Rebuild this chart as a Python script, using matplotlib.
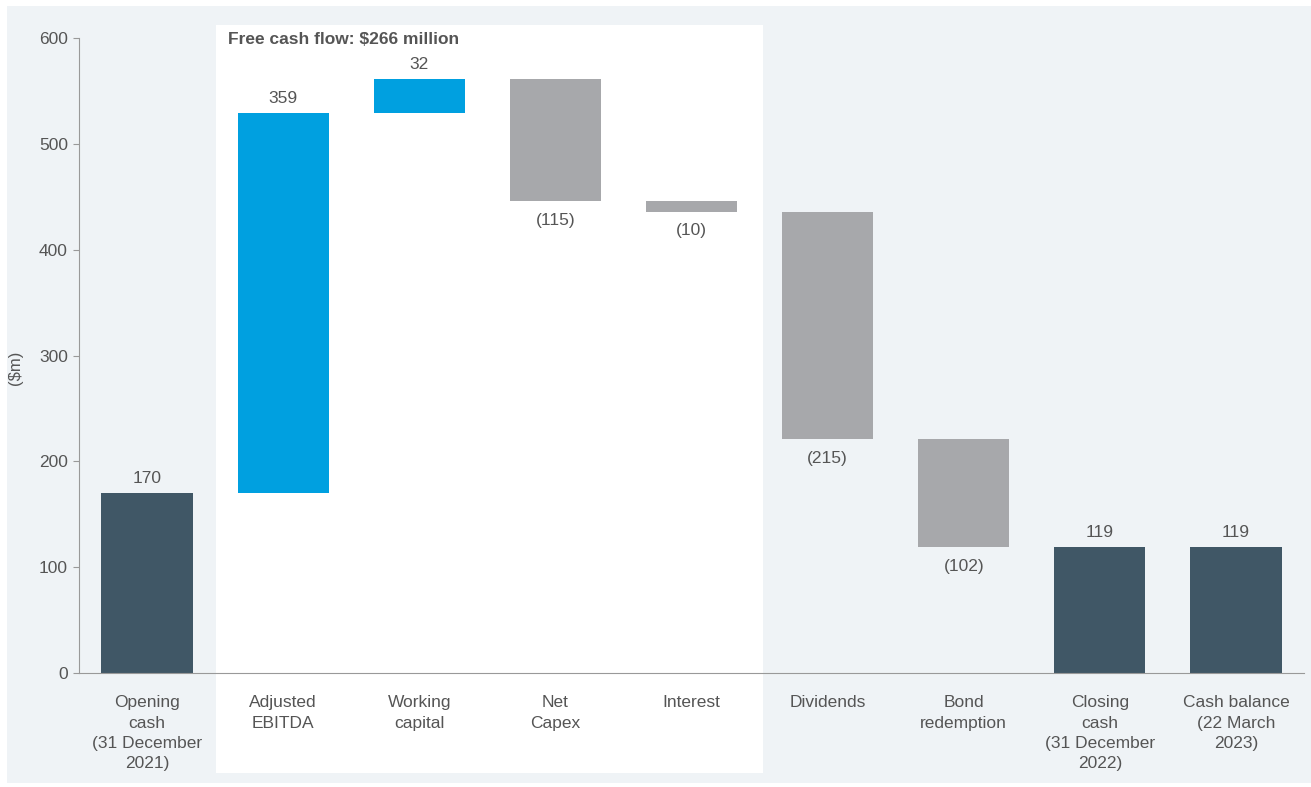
import matplotlib
matplotlib.use("Agg")
import matplotlib.pyplot as plt
from matplotlib.patches import Rectangle

categories = ["Opening\ncash\n(31 December\n2021)", "Adjusted\nEBITDA", "Working\ncapital",
              "Net\nCapex", "Interest", "Dividends", "Bond\nredemption",
              "Closing\ncash\n(31 December\n2022)", "Cash balance\n(22 March\n2023)"]
changes = [170, 359, 32, -115, -10, -215, -102, 119, 119]
kinds = ["total", "delta", "delta", "delta", "delta", "delta", "delta", "total", "total"]
value_labels = ["170", "359", "32", "(115)", "(10)", "(215)", "(102)", "119", "119"]
yticks = [0, 100, 200, 300, 400, 500, 600]
annotation = "Free cash flow: $266 million"

DARK = "#405766"
BLUE = "#00a0e0"
GRAY = "#a7a8ab"
BG = "#eff3f6"
TXT = "#555555"

plt.rcParams['font.family'] = ['Liberation Sans', 'DejaVu Sans']

W, H = 1311, 787
fig = plt.figure(figsize=(W / 100, H / 100), dpi=100, facecolor="white")

def fx(px):
    return px / W

def fy(py):
    return 1 - py / H

# background panel
fig.patches.append(Rectangle((fx(7), fy(783)), fx(1311) - fx(7), fy(6) - fy(783),
                             transform=fig.transFigure, facecolor=BG, edgecolor="none", zorder=-3))
# white highlight box
fig.patches.append(Rectangle((fx(216), fy(773)), fx(763) - fx(216), fy(25) - fy(773),
                             transform=fig.transFigure, facecolor="white", edgecolor="none", zorder=-2))

ax = fig.add_axes([fx(79), fy(673), fx(1304) - fx(79), fy(38) - fy(673)])
ax.set_facecolor("none")

running = 0
for i, (c, k) in enumerate(zip(changes, kinds)):
    if k == "total":
        bottom, height, color = 0, c, DARK
        running = c
    else:
        if c >= 0:
            bottom, height, color = running, c, BLUE
        else:
            bottom, height, color = running + c, -c, GRAY
        running += c
    ax.bar(i, height, bottom=bottom, width=0.67, color=color, zorder=2)
    if c >= 0:
        ax.text(i, bottom + height + 7, value_labels[i], ha="center", va="bottom",
                fontsize=12.5, color=TXT)
    else:
        ax.text(i, bottom - 11, value_labels[i], ha="center", va="top",
                fontsize=12.5, color=TXT)

ax.set_xlim(-0.5, 8.5)
ax.set_ylim(0, 600)
ax.set_yticks(yticks)
ax.set_yticklabels([str(t) for t in yticks], fontsize=12.5, color=TXT)
ax.set_xticks(range(len(categories)))
ax.set_xticklabels(categories, fontsize=12.5, color=TXT, linespacing=1.45)
ax.tick_params(axis="x", length=0, pad=16)
ax.tick_params(axis="y", length=4, width=0.8, color="#999999", pad=4)
for s in ["top", "right"]:
    ax.spines[s].set_visible(False)
ax.spines["left"].set_color("#999999")
ax.spines["bottom"].set_color("#999999")
ax.spines["left"].set_linewidth(0.8)
ax.spines["bottom"].set_linewidth(0.8)

fig.text(fx(15), fy(368), "($m)", rotation=90, ha="center", va="center",
         fontsize=12, color=TXT)
fig.text(fx(228), fy(40), annotation, ha="left", va="center", fontsize=12.5,
         fontweight="bold", color=TXT)

fig.savefig("out.png", dpi=100, facecolor="white")
